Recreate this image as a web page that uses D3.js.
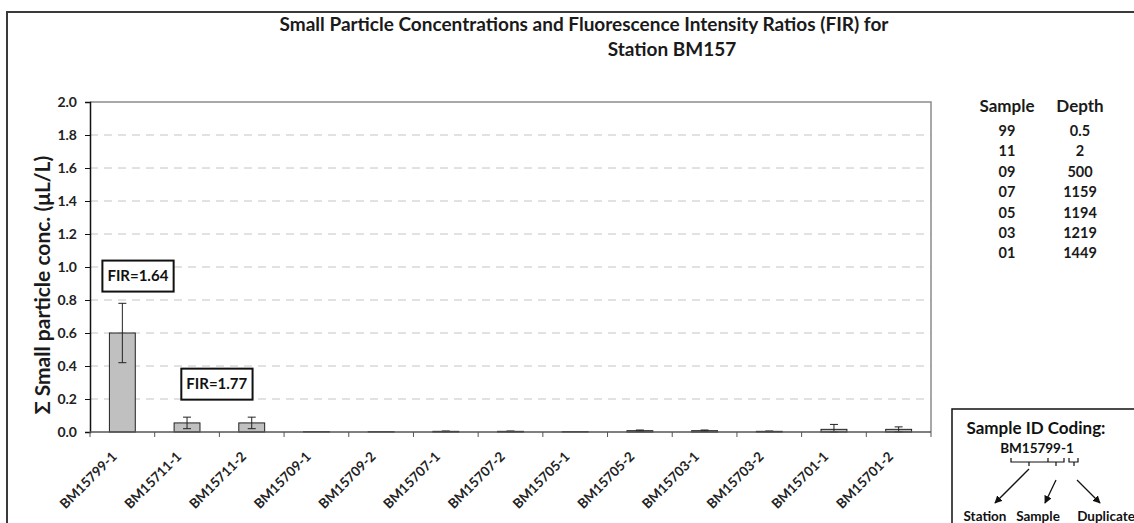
<!DOCTYPE html>
<html>
<head>
<meta charset="utf-8">
<script src="https://cdn.jsdelivr.net/npm/d3@7"></script>
<style>
  body { margin: 0; background: #fff; }
  svg { display: block; font-family: Lato, "Noto Sans", sans-serif; font-weight: bold; }
</style>
</head>
<body>
<div id="chart"></div>
<script>
const samples = [
  "BM15799-1", "BM15711-1", "BM15711-2", "BM15709-1", "BM15709-2",
  "BM15707-1", "BM15707-2", "BM15705-1", "BM15705-2", "BM15703-1",
  "BM15703-2", "BM15701-1", "BM15701-2"
];
const concentration = [0.60, 0.055, 0.055, 0.002, 0.002, 0.004, 0.004, 0.002, 0.008, 0.008, 0.004, 0.016, 0.016];
const errorValues = [0.18, 0.035, 0.035, 0.0, 0.0, 0.002, 0.002, 0.0, 0.004, 0.004, 0.002, 0.03, 0.015];
const yTickValues = [0, 0.2, 0.4, 0.6, 0.8, 1.0, 1.2, 1.4, 1.6, 1.8, 2.0];

const firSamples = ["BM15799-1", "BM15711-2"];
const firTexts = ["FIR=1.64", "FIR=1.77"];
const firValues = [0.945, 0.29];
const firBandPos = [0.74, -0.04];

const sampleCodes = ["99", "11", "09", "07", "05", "03", "01"];
const sampleDepths = ["0.5", "2", "500", "1159", "1194", "1219", "1449"];

const width = 1134;
const height = 523;
const plot = { left: 90, right: 931, top: 102, bottom: 432 };

const svg = d3.select("#chart")
  .append("svg")
  .attr("width", width)
  .attr("height", height);

// outer chart frame
svg.append("rect")
  .attr("x", 7).attr("y", 12)
  .attr("width", 1140).attr("height", 530)
  .attr("fill", "none")
  .attr("stroke", "#3a3a3a")
  .attr("stroke-width", 2);

// title
const title = svg.append("text")
  .attr("text-anchor", "middle")
  .attr("font-size", 19)
  .attr("fill", "#1a1a1a");
title.append("tspan").attr("x", 584).attr("y", 31)
  .text("Small Particle Concentrations and Fluorescence Intensity Ratios (FIR) for");
title.append("tspan").attr("x", 672).attr("y", 56)
  .text("Station BM157");

const x = d3.scaleBand()
  .domain(samples)
  .range([plot.left, plot.right])
  .paddingInner(0)
  .paddingOuter(0);

const y = d3.scaleLinear()
  .domain([0, 2])
  .range([plot.bottom, plot.top]);

const rows = samples.map((s, i) => ({ sample: s, value: concentration[i], err: errorValues[i] }));

// gridlines
svg.append("g")
  .selectAll("line")
  .data(yTickValues.filter(v => v > 0 && v < 2))
  .join("line")
  .attr("x1", plot.left).attr("x2", plot.right)
  .attr("y1", d => y(d)).attr("y2", d => y(d))
  .attr("stroke", "#c4c4c4")
  .attr("stroke-dasharray", "8,6");

// plot frame (top and right)
svg.append("path")
  .attr("d", `M${plot.left},${y(2)}H${plot.right}V${plot.bottom}`)
  .attr("fill", "none")
  .attr("stroke", "#8c8c8c")
  .attr("stroke-width", 1.5);

// bars
const barWidth = x.bandwidth() * 0.4;
svg.append("g")
  .selectAll("rect")
  .data(rows)
  .join("rect")
  .attr("x", d => x(d.sample) + (x.bandwidth() - barWidth) / 2)
  .attr("y", d => y(d.value))
  .attr("width", barWidth)
  .attr("height", d => y(0) - y(d.value))
  .attr("fill", "#c0c0c0")
  .attr("stroke", "#222")
  .attr("stroke-width", 1);

// error bars
const errG = svg.append("g")
  .attr("stroke", "#222")
  .attr("stroke-width", 1);
rows.filter(d => d.err > 0).forEach(d => {
  const cx = x(d.sample) + x.bandwidth() / 2;
  const lo = Math.max(0, d.value - d.err);
  const hi = d.value + d.err;
  errG.append("line")
    .attr("x1", cx).attr("x2", cx)
    .attr("y1", y(lo)).attr("y2", y(hi));
  [lo, hi].forEach(v => {
    errG.append("line")
      .attr("x1", cx - 4).attr("x2", cx + 4)
      .attr("y1", y(v)).attr("y2", y(v));
  });
});

// y axis
const yAxis = svg.append("g")
  .attr("transform", `translate(${plot.left},0)`)
  .call(d3.axisLeft(y).tickValues(yTickValues).tickFormat(d3.format(".1f")).tickSizeOuter(0).tickSize(5));
yAxis.select(".domain").attr("stroke", "#111").attr("stroke-width", 1.5);
yAxis.selectAll(".tick line").attr("stroke", "#111");
yAxis.selectAll(".tick text")
  .attr("x", -13)
  .attr("font-size", 14)
  .attr("font-family", "Lato, 'Noto Sans', sans-serif")
  .attr("font-weight", "bold")
  .attr("fill", "#222");

// x axis with ticks at category boundaries
const xAxisG = svg.append("g");
xAxisG.append("line")
  .attr("x1", plot.left).attr("x2", plot.right)
  .attr("y1", plot.bottom).attr("y2", plot.bottom)
  .attr("stroke", "#555")
  .attr("stroke-width", 1.5);
xAxisG.selectAll("line.tick")
  .data(samples.map(s => x(s)).concat([plot.right]))
  .join("line")
  .attr("class", "tick")
  .attr("x1", d => d).attr("x2", d => d)
  .attr("y1", plot.bottom).attr("y2", plot.bottom + 5)
  .attr("stroke", "#555");
xAxisG.selectAll("text")
  .data(samples)
  .join("text")
  .attr("transform", d => `translate(${x(d) + x.bandwidth() / 2 - 8},${plot.bottom + 22}) rotate(-45)`)
  .attr("text-anchor", "end")
  .attr("dy", "0.35em")
  .attr("font-size", 13.5)
  .attr("fill", "#222")
  .text(d => d);

// y axis title
svg.append("text")
  .attr("transform", `translate(50,285) rotate(-90)`)
  .attr("text-anchor", "middle")
  .attr("font-size", 21)
  .attr("fill", "#1a1a1a")
  .text("\u03A3 Small particle conc. (\u03BCL/L)");

// FIR labels
firTexts.forEach((t, i) => {
  const cx = x(firSamples[i]) + x.bandwidth() * firBandPos[i];
  const cy = y(firValues[i]);
  const g = svg.append("g");
  const txt = g.append("text")
    .attr("x", cx).attr("y", cy)
    .attr("text-anchor", "middle")
    .attr("dy", "0.35em")
    .attr("font-size", 15)
    .attr("fill", "#111")
    .text(t);
  const bb = txt.node().getBBox();
  g.insert("rect", "text")
    .attr("x", bb.x - 5).attr("y", cy - 15.5)
    .attr("width", bb.width + 10).attr("height", 31)
    .attr("fill", "#fff")
    .attr("stroke", "#111")
    .attr("stroke-width", 2);
});

// sample / depth table
const table = svg.append("g").attr("fill", "#1a1a1a").attr("text-anchor", "middle");
table.append("text").attr("x", 1007).attr("y", 112).attr("font-size", 17).text("Sample");
table.append("text").attr("x", 1080).attr("y", 112).attr("font-size", 17).text("Depth");
table.selectAll("text.code")
  .data(sampleCodes)
  .join("text")
  .attr("class", "code")
  .attr("x", 1007)
  .attr("y", (d, i) => 131 + i * 20.4)
  .attr("dy", "0.35em")
  .attr("font-size", 14.5)
  .text(d => d);
table.selectAll("text.depth")
  .data(sampleDepths)
  .join("text")
  .attr("class", "depth")
  .attr("x", 1080)
  .attr("y", (d, i) => 131 + i * 20.4)
  .attr("dy", "0.35em")
  .attr("font-size", 14.5)
  .text(d => d);

// sample ID coding box
const key = svg.append("g");
key.append("rect")
  .attr("x", 952).attr("y", 409)
  .attr("width", 200).attr("height", 200)
  .attr("fill", "#fff")
  .attr("stroke", "#111")
  .attr("stroke-width", 1.5);
key.append("text").attr("x", 1036).attr("y", 434)
  .attr("text-anchor", "middle").attr("font-size", 17).attr("fill", "#111")
  .text("Sample ID Coding:");
key.append("text").attr("x", 1037).attr("y", 453)
  .attr("text-anchor", "middle").attr("font-size", 13.5).attr("fill", "#111")
  .text("BM15799-1");

svg.append("defs").append("marker")
  .attr("id", "arrow")
  .attr("viewBox", "0 0 10 10")
  .attr("refX", 9).attr("refY", 5)
  .attr("markerWidth", 6).attr("markerHeight", 6)
  .attr("orient", "auto")
  .append("path")
  .attr("d", "M0,0L10,5L0,10z")
  .attr("fill", "#111");

const bracket = "M1011,458V462H1048V458M1048,462H1064V458" +
  "M1069,458V462H1078V458" +
  "M1029,462V466M1056,462V466M1074,462V466";
key.append("path")
  .attr("d", bracket)
  .attr("fill", "none")
  .attr("stroke", "#111")
  .attr("stroke-width", 1.2);

const arrows = [[1029, 469, 995, 503], [1056, 480, 1045, 503], [1077, 480, 1100, 503]];
key.selectAll("line.arrow")
  .data(arrows)
  .join("line")
  .attr("class", "arrow")
  .attr("x1", d => d[0]).attr("y1", d => d[1])
  .attr("x2", d => d[2]).attr("y2", d => d[3])
  .attr("stroke", "#111")
  .attr("stroke-width", 1.3)
  .attr("marker-end", "url(#arrow)");

const keyLabels = [["Station", 985], ["Sample", 1038], ["Duplicate", 1106]];
key.selectAll("text.lbl")
  .data(keyLabels)
  .join("text")
  .attr("class", "lbl")
  .attr("x", d => d[1]).attr("y", 521)
  .attr("text-anchor", "middle")
  .attr("font-size", 13.5)
  .attr("fill", "#111")
  .text(d => d[0]);
</script>
</body>
</html>
